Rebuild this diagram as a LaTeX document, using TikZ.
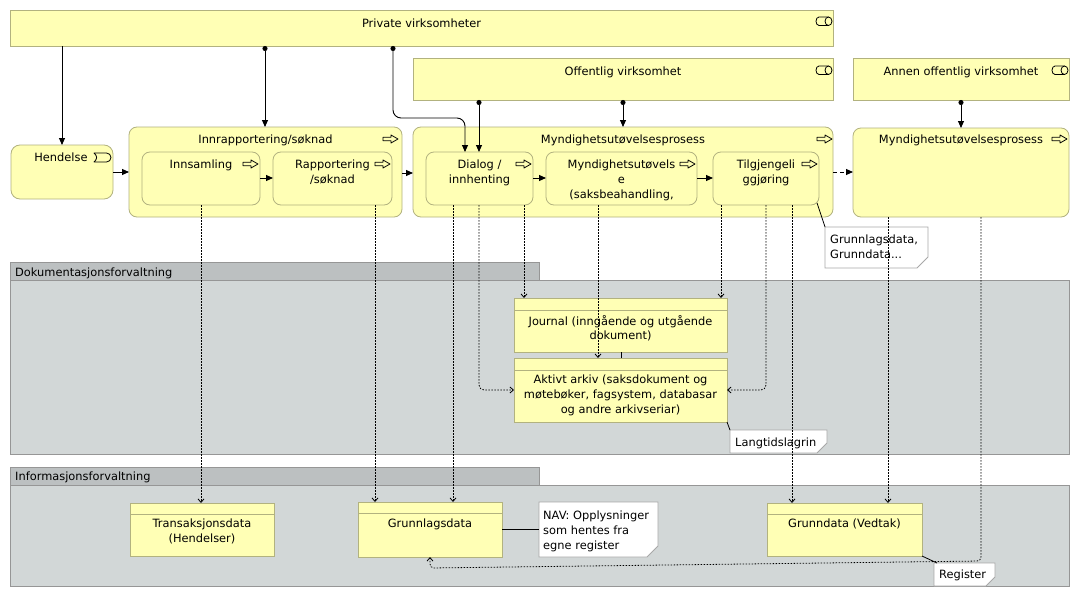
\documentclass[tikz,border=0pt]{standalone}
\usepackage{fontspec}
\setmainfont{DejaVu Sans}
\usetikzlibrary{arrows.meta,calc}
\definecolor{yelfill}{HTML}{FFFFB5}
\definecolor{yelline}{HTML}{B2B27F}
\definecolor{grpbody}{HTML}{D2D7D7}
\definecolor{grptab}{HTML}{BCC0C1}
\definecolor{grpline}{HTML}{969696}
\definecolor{noteline}{HTML}{A8A8A8}
\newcommand\lblfont{\fontsize{11.4}{14.7}\selectfont}
\newcommand\drawnote[2]{\draw[notest] (#1.north west) -- (#1.north east) -- ($(#1.south east)+(0,-#2)$) -- ($(#1.south east)+(-#2,0)$) -- (#1.south west) -- cycle;}
\tikzset{
  elem/.style={draw=yelline, fill=yelfill, line width=0.8pt, anchor=north west, inner sep=0pt, outer sep=0pt},
  proc/.style={elem, rounded corners=8pt},
  grpbox/.style={draw=grpline, fill=grpbody, line width=0.8pt, anchor=north west, inner sep=0pt, outer sep=0pt},
  grptabst/.style={draw=grpline, fill=grptab, line width=0.8pt, anchor=north west, inner sep=0pt, outer sep=0pt},
  notebox/.style={draw=none, anchor=north west, inner sep=0pt, outer sep=0pt},
  notest/.style={draw=noteline, fill=white, line width=0.8pt},
  lbl/.style={anchor=north, align=center, font=\lblfont, inner sep=0pt},
  nlbl/.style={anchor=north west, align=left, font=\lblfont, inner sep=0pt},
  icon/.style={draw=black, line width=0.8pt, line join=round},
  trig/.style={line width=0.9pt, -{Triangle[length=7pt,width=6pt]}},
  assign/.style={line width=0.9pt, {Circle[length=5pt]}-{Triangle[length=7pt,width=6pt]}},
  acc/.style={line width=0.8pt, dash pattern=on 1.5pt off 1.5pt, -{Straight Barb[length=3.5pt,width=6pt,line width=0.8pt]}},
  flowd/.style={line width=0.9pt, dash pattern=on 4pt off 3pt, -{Triangle[length=7pt,width=6pt]}},
  nlink/.style={line width=0.8pt},
  roleic/.pic={
    \draw[icon] (12.5,0) -- (3,0) arc[start angle=270, end angle=90, x radius=3, y radius=4.25] -- (12.5,8.5);
    \draw[icon] (12.5,4.25) ellipse[x radius=3.5, y radius=4.25];
  },
  procic/.pic={
    \draw[icon] (0,2.2) -- (8,2.2) -- (8,0) -- (15,4) -- (8,8) -- (8,5.8) -- (0,5.8) -- cycle;
  },
  evtic/.pic={
    \draw[icon] (0,0) -- (12.5,0) arc[start angle=-90, end angle=90, radius=4.5] -- (0,9) .. controls (3.5,6) and (3.5,3) .. (0,0) -- cycle;
  },
}
\begin{document}
\begin{tikzpicture}[x=1pt,y=-1pt]
\useasboundingbox (0,0) rectangle (1080,597);
\fill[white] (0,0) rectangle (1080,597);

% groups
\node[grpbox, minimum width=1059pt, minimum height=174pt] (dokb) at (10,280) {};
\node[grptabst, minimum width=529pt, minimum height=18pt] (dokt) at (10,262) {};
\node[nlbl] (dokl) at (15,267.5) {Dokumentasjonsforvaltning};
\node[grpbox, minimum width=1059pt, minimum height=101pt] (infb) at (10,485) {};
\node[grptabst, minimum width=529pt, minimum height=18pt] (inft) at (10,467) {};
\node[nlbl] (infl) at (15,471.5) {Informasjonsforvaltning};

% actors / roles
\node[elem, minimum width=823pt, minimum height=36pt] (pv) at (10,10) {};
\node[elem, minimum width=420pt, minimum height=42pt] (ov) at (413,58) {};
\node[elem, minimum width=216pt, minimum height=42pt] (av) at (853,58) {};

% processes
\node[proc, rounded corners=9pt, minimum width=102pt, minimum height=54pt] (hen) at (11,145) {};
\node[proc, minimum width=273pt, minimum height=90pt] (inr) at (129,127) {};
\node[proc, minimum width=118pt, minimum height=53pt] (ins) at (142,152) {};
\node[proc, minimum width=119pt, minimum height=53pt] (rap) at (273,152) {};
\node[proc, minimum width=420pt, minimum height=90pt] (myn) at (413,127) {};
\node[proc, minimum width=107pt, minimum height=53pt] (dia) at (426,152) {};
\node[proc, minimum width=151pt, minimum height=53pt] (mu) at (546,152) {};
\node[proc, minimum width=106pt, minimum height=53pt] (til) at (713,152) {};
\node[proc, minimum width=216pt, minimum height=89pt] (myr) at (853,128) {};

% objects
\node[elem, minimum width=213pt, minimum height=54pt] (jou) at (514,298) {};
\draw[yelline, line width=0.8pt] ($(jou.north west)+(0,12)$) -- ($(jou.north east)+(0,12)$);
\node[elem, minimum width=213pt, minimum height=64pt] (akt) at (514,358) {};
\draw[yelline, line width=0.8pt] ($(akt.north west)+(0,12)$) -- ($(akt.north east)+(0,12)$);
\node[elem, minimum width=144pt, minimum height=53pt] (tra) at (130,503) {};
\draw[yelline, line width=0.8pt] ($(tra.north west)+(0,11)$) -- ($(tra.north east)+(0,11)$);
\node[elem, minimum width=144pt, minimum height=55pt] (gld) at (358,502) {};
\draw[yelline, line width=0.8pt] ($(gld.north west)+(0,11)$) -- ($(gld.north east)+(0,11)$);
\node[elem, minimum width=155pt, minimum height=53pt] (gdv) at (767,503) {};
\draw[yelline, line width=0.8pt] ($(gdv.north west)+(0,11)$) -- ($(gdv.north east)+(0,11)$);

% notes
\node[notebox, minimum width=103pt, minimum height=41pt] (no1) at (825,227) {};
\drawnote{no1}{11}
\node[notebox, minimum width=97pt, minimum height=23pt] (ln) at (730,430) {};
\drawnote{ln}{10}
\node[notebox, minimum width=119pt, minimum height=55pt] (nav) at (539,502) {};
\drawnote{nav}{11}
\node[notebox, minimum width=61pt, minimum height=23pt] (reg) at (934,563) {};
\drawnote{reg}{9}

% labels
\node[lbl] (pvt) at (pv.north |- 0,18.8) {Private virksomheter};
\node[lbl] (ovt) at (ov.north |- 0,66.8) {Offentlig virksomhet};
\node[lbl] (avt) at (av.north |- 0,66.8) {Annen offentlig virksomhet};
\node[lbl] (hent) at (61,152.8) {Hendelse};
\node[lbl] (inrt) at (inr.north |- 0,134.8) {Innrapportering/søknad};
\node[lbl] (inst) at (ins.north |- 0,159.8) {Innsamling};
\node[lbl] (rapt) at (rap.north |- 0,159.8) {Rapportering\\/søknad};
\node[lbl] (mynt) at (myn.north |- 0,134.8) {Myndighetsutøvelsesprosess};
\node[lbl] (diat) at (dia.north |- 0,159.8) {Dialog /\\innhenting};
\node[lbl] (mut) at (mu.north |- 0,159.8) {Myndighetsutøvels\\e\\(saksbeahandling,};
\node[lbl] (tilt) at (til.north |- 0,159.8) {Tilgjengeli\\ggjøring};
\node[lbl] (myrt) at (myr.north |- 0,134.8) {Myndighetsutøvelsesprosess};
\node[lbl] (jout) at (jou.north |- 0,314.8) {Journal (inngående og utgående\\dokument)};
\node[lbl] (aktt) at (akt.north |- 0,374.8) {Aktivt arkiv (saksdokument og\\møtebøker, fagsystem, databasar\\og andre arkivseriar)};
\node[lbl] (trat) at (tra.north |- 0,518.8) {Transaksjonsdata\\(Hendelser)};
\node[lbl] (gldt) at (gld.north |- 0,518.8) {Grunnlagsdata};
\node[lbl] (gdvt) at (gdv.north |- 0,518.8) {Grunndata (Vedtak)};
\node[nlbl] (no1t) at (830,234.8) {Grunnlagsdata,\\Grunndata...};
\node[nlbl] (lnt) at (735,437.8) {Langtidslagrin};
\node[nlbl] (navt) at (543,510.8) {NAV: Opplysninger\\som hentes fra\\egne register};
\node[nlbl] (regt) at (939,569.8) {Register};

% icons
\pic at (816,17) {roleic};
\pic at (816,66) {roleic};
\pic at (1052,66) {roleic};
\pic at (94,153) {evtic};
\pic at (383,135) {procic};
\pic at (243,160) {procic};
\pic at (375,160) {procic};
\pic at (817,135) {procic};
\pic at (516,160) {procic};
\pic at (680,160) {procic};
\pic at (802,160) {procic};
\pic at (1052,135) {procic};

% connectors: assignment / triggering / flow
\draw[trig] (62,0 |- pv.south) -- (62,0 |- hen.north);
\draw[assign] (265,0 |- pv.south) -- (265,0 |- inr.north);
\draw[assign, rounded corners=8pt] (393,0 |- pv.south) |- (465,118) -- (465,0 |- dia.north);
\draw[assign] (479,0 |- ov.south) -- (479,0 |- dia.north);
\draw[assign] (623,0 |- ov.south) -- (623,0 |- myn.north);
\draw[assign] (961,0 |- av.south) -- (961,0 |- myr.north);
\draw[trig] (hen.east |- 0,172) -- (inr.west |- 0,172);
\draw[trig] (ins.east |- 0,178) -- (rap.west |- 0,178);
\draw[trig] (inr.east |- 0,173) -- (myn.west |- 0,173);
\draw[trig] (dia.east |- 0,178) -- (mu.west |- 0,178);
\draw[trig] (mu.east |- 0,178) -- (til.west |- 0,178);
\draw[flowd] (myn.east |- 0,172) -- (myr.west |- 0,172);

% access
\draw[acc] (201,0 |- ins.south) -- (201,0 |- tra.north);
\draw[acc] (375,0 |- rap.south) -- (375,0 |- gld.north);
\draw[acc] (453,0 |- dia.south) -- (453,0 |- gld.north);
\draw[acc, rounded corners=5pt] (479,0 |- dia.south) |- (akt.west |- 0,390);
\draw[acc] (524,0 |- dia.south) -- (524,0 |- jou.north);
\draw[acc] (598,0 |- mu.south) -- (598,0 |- akt.north);
\draw[acc] (721,0 |- til.south) -- (721,0 |- jou.north);
\draw[acc, rounded corners=5pt] (766,0 |- til.south) |- (akt.east |- 0,390);
\draw[acc] (792,0 |- til.south) -- (792,0 |- gdv.north);
\draw[acc] (888,0 |- myr.south) -- (888,0 |- gdv.north);
\draw[acc, rounded corners=4pt] (981,0 |- myr.south) -- (981,561) -- (430,568) -- (430,0 |- gld.south);

% other links
\draw[nlink] (621,0 |- jou.south) -- (621,0 |- akt.north);
\draw[nlink] ($(til.south east)+(-2,-2)$) -- (no1.north west);
\draw[nlink] (akt.south east) -- (ln.north west);
\draw[nlink] (gld.east) -- (nav.west);
\draw[nlink] (gdv.south east) -- ($(reg.north west)+(3,0)$);
\end{tikzpicture}
\end{document}
